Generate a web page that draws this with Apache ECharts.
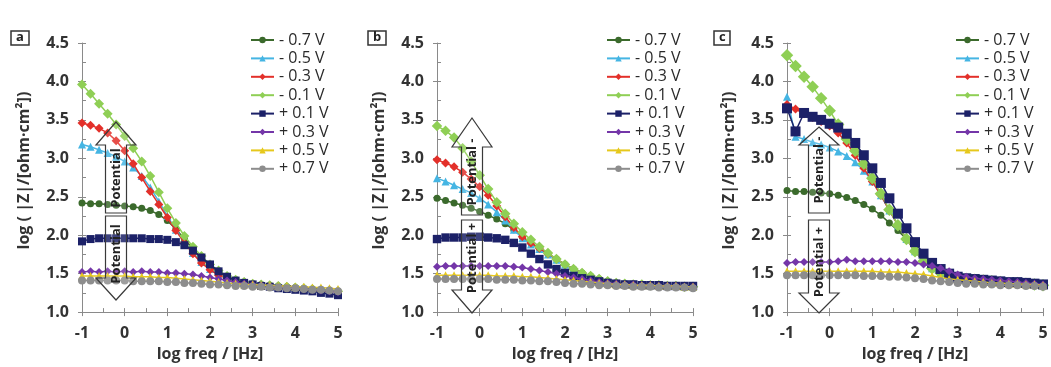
<!DOCTYPE html>
<html>
<head>
<meta charset="utf-8">
<script src="https://cdn.jsdelivr.net/npm/echarts@6/dist/echarts.min.js"></script>
<style>
  html, body { margin: 0; padding: 0; background: #ffffff; }
  #chart { width: 1051px; height: 367px; }
</style>
</head>
<body>
<div id="chart"></div>
<script>
// Impedance modulus vs. frequency at eight applied potentials, three samples (a, b, c)
const logFreq = [-1,-0.8,-0.6,-0.4,-0.2,0,0.2,0.4,0.6,0.8,1,1.2,1.4,1.6,1.8,2,2.2,2.4,2.6,2.8,3,3.2,3.4,3.6,3.8,4,4.2,4.4,4.6,4.8,5];
const potentialNames = ['- 0.7 V','- 0.5 V','- 0.3 V','- 0.1 V','+ 0.1 V','+ 0.3 V','+ 0.5 V','+ 0.7 V'];
const panelLetters = ['a','b','c'];
const xTickMin = -1, xTickMax = 5, xTickStep = 1;
const yTickMin = 1.0, yTickMax = 4.5, yTickStep = 0.5;

// sample a
const aM07 = [2.42,2.41,2.41,2.40,2.39,2.38,2.37,2.35,2.32,2.27,2.19,2.08,1.95,1.82,1.70,1.60,1.52,1.46,1.42,1.39,1.37,1.36,1.35,1.34,1.33,1.32,1.31,1.30,1.29,1.28,1.27];
const aM05 = [3.18,3.15,3.11,3.07,3.02,2.96,2.88,2.77,2.62,2.44,2.25,2.07,1.91,1.77,1.65,1.56,1.49,1.44,1.41,1.39,1.37,1.36,1.35,1.34,1.33,1.32,1.31,1.30,1.29,1.28,1.27];
const aM03 = [3.46,3.43,3.39,3.33,3.23,3.10,2.93,2.75,2.57,2.40,2.23,2.06,1.90,1.76,1.64,1.55,1.48,1.44,1.41,1.39,1.37,1.36,1.35,1.34,1.33,1.32,1.31,1.30,1.29,1.28,1.27];
const aM01 = [3.96,3.84,3.71,3.58,3.44,3.29,3.13,2.96,2.77,2.56,2.35,2.16,1.99,1.85,1.73,1.62,1.54,1.47,1.42,1.39,1.37,1.36,1.35,1.34,1.33,1.32,1.31,1.30,1.29,1.28,1.27];
const aP01 = [1.92,1.95,1.96,1.96,1.96,1.96,1.96,1.96,1.95,1.95,1.94,1.91,1.87,1.80,1.71,1.62,1.53,1.46,1.41,1.38,1.36,1.34,1.33,1.31,1.30,1.29,1.28,1.27,1.25,1.24,1.22];
const aP03 = [1.52,1.53,1.52,1.53,1.52,1.53,1.52,1.53,1.52,1.52,1.51,1.51,1.50,1.49,1.47,1.45,1.43,1.41,1.39,1.37,1.36,1.35,1.34,1.33,1.32,1.31,1.30,1.29,1.28,1.27,1.26];
const aP05 = [1.47,1.47,1.47,1.47,1.47,1.47,1.46,1.46,1.46,1.45,1.45,1.44,1.43,1.42,1.41,1.40,1.39,1.38,1.37,1.36,1.36,1.35,1.35,1.34,1.34,1.33,1.33,1.32,1.32,1.31,1.30];
const aP07 = [1.41,1.41,1.41,1.41,1.41,1.41,1.40,1.40,1.40,1.40,1.39,1.39,1.38,1.38,1.37,1.36,1.36,1.35,1.34,1.34,1.33,1.33,1.32,1.32,1.31,1.31,1.30,1.29,1.29,1.28,1.27];

// sample b
const bM07 = [2.48,2.45,2.42,2.39,2.35,2.31,2.26,2.21,2.15,2.07,1.98,1.90,1.83,1.76,1.69,1.62,1.56,1.51,1.47,1.43,1.40,1.38,1.37,1.36,1.36,1.35,1.35,1.34,1.34,1.33,1.33];
const bM05 = [2.74,2.70,2.65,2.60,2.55,2.48,2.40,2.30,2.19,2.07,1.96,1.88,1.82,1.75,1.68,1.62,1.56,1.51,1.47,1.43,1.40,1.38,1.37,1.36,1.36,1.35,1.35,1.34,1.34,1.33,1.33];
const bM03 = [2.98,2.94,2.89,2.82,2.73,2.63,2.52,2.38,2.24,2.10,1.98,1.90,1.83,1.76,1.69,1.62,1.56,1.51,1.47,1.43,1.40,1.38,1.37,1.36,1.36,1.35,1.35,1.34,1.34,1.33,1.33];
const bM01 = [3.42,3.36,3.27,3.13,2.96,2.78,2.60,2.43,2.28,2.15,2.04,1.94,1.85,1.77,1.69,1.62,1.56,1.51,1.47,1.43,1.40,1.38,1.37,1.36,1.36,1.35,1.35,1.34,1.34,1.33,1.33];
const bP01 = [1.95,1.97,1.97,1.97,1.98,1.98,1.97,1.96,1.94,1.90,1.84,1.76,1.69,1.62,1.56,1.51,1.47,1.44,1.42,1.40,1.38,1.37,1.36,1.36,1.35,1.35,1.35,1.34,1.34,1.34,1.34];
const bP03 = [1.59,1.60,1.60,1.60,1.60,1.60,1.60,1.60,1.60,1.59,1.58,1.56,1.54,1.52,1.50,1.47,1.45,1.43,1.41,1.39,1.38,1.37,1.36,1.36,1.35,1.35,1.34,1.34,1.34,1.33,1.33];
const bP05 = [1.48,1.48,1.48,1.48,1.48,1.48,1.48,1.47,1.47,1.47,1.46,1.46,1.45,1.44,1.43,1.42,1.41,1.40,1.39,1.38,1.37,1.36,1.36,1.35,1.35,1.35,1.34,1.34,1.34,1.33,1.33];
const bP07 = [1.43,1.43,1.43,1.43,1.43,1.43,1.43,1.42,1.42,1.42,1.41,1.41,1.40,1.40,1.39,1.38,1.37,1.37,1.36,1.35,1.35,1.34,1.34,1.33,1.33,1.33,1.32,1.32,1.32,1.32,1.31];

// sample c
const cM07 = [2.58,2.57,2.57,2.56,2.55,2.54,2.52,2.49,2.45,2.40,2.34,2.26,2.16,2.06,1.95,1.84,1.73,1.64,1.57,1.51,1.47,1.45,1.43,1.42,1.41,1.40,1.39,1.38,1.38,1.37,1.36];
const cM05 = [3.80,3.28,3.25,3.21,3.18,3.14,3.09,3.03,2.95,2.84,2.70,2.52,2.32,2.13,1.95,1.79,1.66,1.57,1.51,1.47,1.44,1.43,1.42,1.41,1.40,1.39,1.38,1.38,1.37,1.36,1.35];
const cM03 = [3.70,3.64,3.58,3.53,3.48,3.42,3.33,3.20,3.04,2.87,2.70,2.52,2.32,2.13,1.95,1.79,1.66,1.57,1.51,1.47,1.44,1.43,1.42,1.41,1.40,1.39,1.38,1.38,1.37,1.36,1.35];
const cM01 = [4.34,4.20,4.06,3.93,3.78,3.62,3.44,3.25,3.10,2.93,2.74,2.54,2.33,2.13,1.95,1.79,1.66,1.57,1.51,1.47,1.44,1.43,1.42,1.41,1.40,1.39,1.38,1.38,1.37,1.36,1.35];
const cP01 = [3.65,3.35,3.59,3.54,3.50,3.45,3.40,3.32,3.20,3.04,2.87,2.68,2.48,2.28,2.09,1.91,1.76,1.64,1.56,1.50,1.46,1.44,1.43,1.42,1.41,1.40,1.39,1.39,1.38,1.37,1.36];
const cP03 = [1.64,1.65,1.65,1.65,1.65,1.65,1.66,1.68,1.66,1.66,1.66,1.66,1.66,1.65,1.65,1.64,1.62,1.60,1.57,1.53,1.49,1.46,1.44,1.43,1.42,1.41,1.40,1.39,1.38,1.37,1.36];
const cP05 = [1.53,1.53,1.53,1.53,1.53,1.53,1.53,1.53,1.53,1.53,1.53,1.52,1.52,1.52,1.51,1.50,1.49,1.47,1.45,1.43,1.42,1.41,1.40,1.39,1.38,1.38,1.37,1.37,1.36,1.36,1.35];
const cP07 = [1.48,1.48,1.48,1.48,1.48,1.48,1.48,1.48,1.48,1.47,1.47,1.47,1.46,1.46,1.45,1.44,1.43,1.41,1.40,1.39,1.38,1.37,1.37,1.36,1.36,1.35,1.35,1.35,1.34,1.34,1.33];

const panels = [
  [aM07, aM05, aM03, aM01, aP01, aP03, aP05, aP07],
  [bM07, bM05, bM03, bM01, bP01, bP03, bP05, bP07],
  [cM07, cM05, cM03, cM01, cP01, cP03, cP05, cP07]
];

// arrow captions per panel: [upper, lower]
const arrowCaptions = [['Potential', 'Potential'], ['Potential -', 'Potential +'], ['Potential -', 'Potential +']];

// ---- styling ----
const FONT = '"Open Sans", Lato, sans-serif';
const AXIS_GRAY = '#8a8a8a';
const TEXT = '#333333';
const markerStyles = [
  { color: '#3b6a2c', symbol: 'circle',   size: 7 },
  { color: '#45b5e3', symbol: 'triangle', size: 8 },
  { color: '#e3302a', symbol: 'diamond',  size: 9 },
  { color: '#8fcf55', symbol: 'diamond',  size: 10 },
  { color: '#1c2168', symbol: 'rect',     size: 8 },
  { color: '#7436a8', symbol: 'diamond',  size: 8 },
  { color: '#e6c81c', symbol: 'triangle', size: 8 },
  { color: '#8d8d8d', symbol: 'circle',   size: 8 }
];
const panelMarkerScale = [1, 1.05, 1.25];

const gridBoxes = [
  { left: 82,  top: 43, width: 256, height: 271 },
  { left: 437, top: 43, width: 256, height: 271 },
  { left: 787, top: 43, width: 256, height: 271 }
];
const legendLeft = [250, 606, 955];
const letterLeft = [11, 368, 714];

const option = {
  backgroundColor: '#ffffff',
  animation: false,
  textStyle: { fontFamily: FONT },
  grid: gridBoxes.map(g => Object.assign({ containLabel: false }, g)),
  title: panelLetters.map((t, p) => ({
    text: t, left: letterLeft[p], top: 31,
    padding: [0, 5, 1, 5],
    borderColor: '#333', borderWidth: 1.5,
    textStyle: { fontFamily: FONT, fontSize: 13, fontWeight: 'bold', color: '#222' }
  })),
  legend: legendLeft.map(l => ({
    data: potentialNames, orient: 'vertical', left: l, top: 32,
    itemWidth: 23, itemHeight: 8, itemGap: 2.4, padding: 0,
    selectedMode: false,
    textStyle: { fontFamily: FONT, fontSize: 16, color: '#2a2a2a', lineHeight: 16, padding: [0, 0, 0, 0] }
  })),
  xAxis: [], yAxis: [], series: [], graphic: []
};

for (let p = 0; p < 3; p++) {
  // main axes: line, outside half of major ticks, labels, names
  option.xAxis.push({
    type: 'value', gridIndex: p, min: xTickMin, max: xTickMax, interval: xTickStep, position: 'bottom',
    axisLine: { show: true, onZero: false, lineStyle: { color: AXIS_GRAY, width: 1 } },
    axisTick: { show: true, inside: false, length: 4, lineStyle: { color: AXIS_GRAY } },
    axisLabel: { color: TEXT, fontSize: 16, fontWeight: 'bold', fontFamily: FONT, margin: 13 },
    splitLine: { show: false },
    name: 'log freq / [Hz]', nameLocation: 'middle', nameGap: 32,
    nameTextStyle: { color: TEXT, fontSize: 16, fontWeight: 'bold', fontFamily: FONT }
  });
  // overlay axes: inside half of major ticks plus minor ticks
  option.xAxis.push({
    type: 'value', gridIndex: p, min: xTickMin, max: xTickMax, interval: xTickStep, position: 'bottom',
    axisLine: { show: false, onZero: false },
    axisTick: { show: true, inside: true, length: 4, lineStyle: { color: AXIS_GRAY } },
    minorTick: { show: true, splitNumber: 2, length: 4, lineStyle: { color: AXIS_GRAY } },
    axisLabel: { show: false }, splitLine: { show: false }
  });
  option.yAxis.push({
    type: 'value', gridIndex: p, min: yTickMin, max: yTickMax, interval: yTickStep, position: 'left',
    axisLine: { show: true, onZero: false, lineStyle: { color: AXIS_GRAY, width: 1 } },
    axisTick: { show: true, inside: false, length: 4, lineStyle: { color: AXIS_GRAY } },
    axisLabel: { color: TEXT, fontSize: 16, fontWeight: 'bold', fontFamily: FONT, margin: 13,
                 formatter: v => v.toFixed(1) },
    splitLine: { show: false },
    name: 'log ( |Z|/[ohm·cm²])', nameLocation: 'middle', nameGap: 50, nameRotate: 90,
    nameTextStyle: { color: TEXT, fontSize: 16, fontWeight: 'bold', fontFamily: FONT, padding: [0, 0, 0, 14] }
  });
  option.yAxis.push({
    type: 'value', gridIndex: p, min: yTickMin, max: yTickMax, interval: yTickStep, position: 'left',
    axisLine: { show: false, onZero: false },
    axisTick: { show: true, inside: true, length: 4, lineStyle: { color: AXIS_GRAY } },
    minorTick: { show: true, splitNumber: 2, length: 4, lineStyle: { color: AXIS_GRAY } },
    axisLabel: { show: false }, splitLine: { show: false }
  });

  panels[p].forEach((vals, s) => {
    const st = markerStyles[s];
    option.series.push({
      type: 'line', name: potentialNames[s],
      xAxisIndex: 2 * p, yAxisIndex: 2 * p,
      data: logFreq.map((x, i) => [x, vals[i]]),
      symbol: st.symbol, symbolSize: st.size * (s === 4 || s === 3 ? panelMarkerScale[p] : 1),
      showSymbol: true,
      itemStyle: { color: st.color },
      lineStyle: { color: st.color, width: 1.5 },
      z: 2 + s
    });
  });
}

// outlined double arrows with rotated captions
function arrowUp(cx, tipY, headY, endY, headHalf, shaftHalf) {
  return [[cx, tipY], [cx + headHalf, headY], [cx + shaftHalf, headY], [cx + shaftHalf, endY],
          [cx - shaftHalf, endY], [cx - shaftHalf, headY], [cx - headHalf, headY]];
}
function arrowDown(cx, tipY, headY, startY, headHalf, shaftHalf) {
  return [[cx, tipY], [cx + headHalf, headY], [cx + shaftHalf, headY], [cx + shaftHalf, startY],
          [cx - shaftHalf, startY], [cx - shaftHalf, headY], [cx - headHalf, headY]];
}
const arrowGeom = [
  { cx: 116, up: [122, 145, 213], down: [300, 278, 216], textUp: 178, textDown: 254 },
  { cx: 472, up: [118, 147, 215], down: [313, 290, 220], textUp: 172, textDown: 258 },
  { cx: 819, up: [127, 145, 213], down: [313, 293, 220], textUp: 170, textDown: 262 }
];
arrowGeom.forEach((g, p) => {
  option.graphic.push({
    type: 'polygon', z: 100,
    shape: { points: arrowUp(g.cx, g.up[0], g.up[1], g.up[2], 20, 10.5) },
    style: { fill: 'rgba(255,255,255,0.15)', stroke: '#3a3a3a', lineWidth: 1.2 }
  });
  option.graphic.push({
    type: 'polygon', z: 100,
    shape: { points: arrowDown(g.cx, g.down[0], g.down[1], g.down[2], 20, 10.5) },
    style: { fill: 'rgba(255,255,255,0.15)', stroke: '#3a3a3a', lineWidth: 1.2 }
  });
  [[arrowCaptions[p][0], g.textUp], [arrowCaptions[p][1], g.textDown]].forEach(([t, y]) => {
    option.graphic.push({
      type: 'text', z: 101, x: g.cx, y: y, rotation: Math.PI / 2,
      style: { text: t, fill: '#222', font: 'bold 13px ' + FONT, textAlign: 'center', textVerticalAlign: 'middle' }
    });
  });
});

const chart = echarts.init(document.getElementById('chart'), null, { renderer: 'canvas' });
chart.setOption(option);
</script>
</body>
</html>
